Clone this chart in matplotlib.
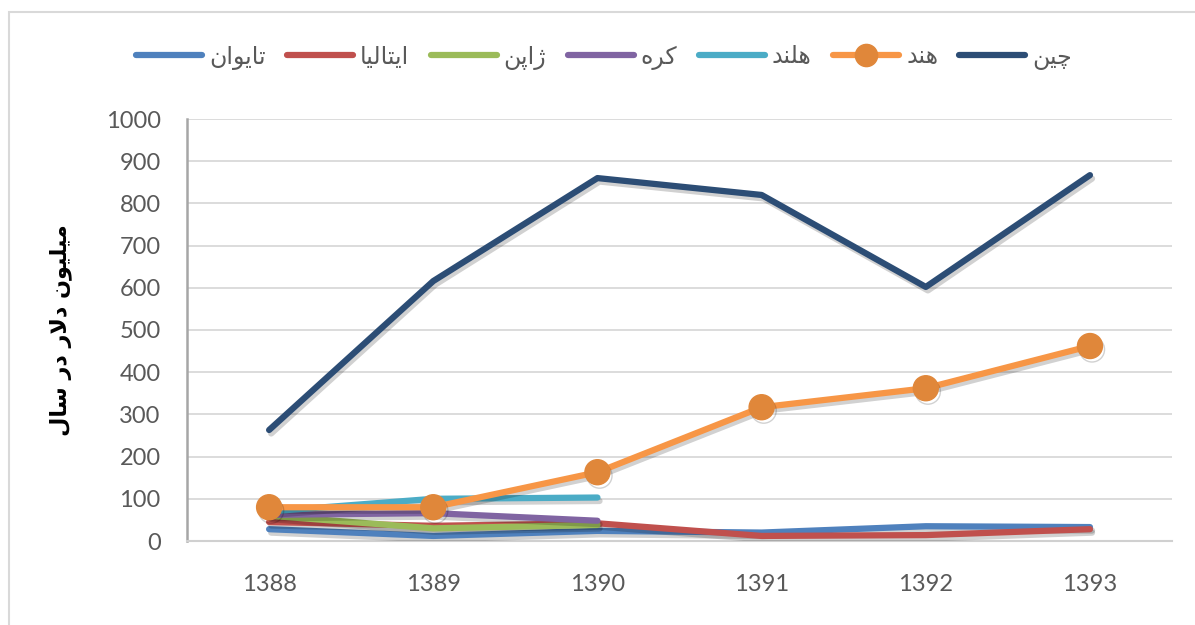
import matplotlib
matplotlib.use("Agg")
import matplotlib.pyplot as plt
import matplotlib.patheffects as pe
from matplotlib.lines import Line2D
from matplotlib.patches import Rectangle

# ---------------- data ----------------
years = ["1388", "1389", "1390", "1391", "1392", "1393"]
series_names = ["تایوان", "ایتالیا", "ژاپن", "کره", "هلند", "هند", "چین"]
taiwan = [28, 12, 24, 20, 35, 33]
italy = [45, 36, 42, 12, 14, 28]
japan = [60, 30, 38]
korea = [62, 66, 48]
netherlands = [70, 100, 103]
india = [80, 80, 163, 317, 362, 462]
china = [263, 616, 860, 820, 602, 867]
y_label = "میلیون دلار در سال"
y_ticks = [0, 100, 200, 300, 400, 500, 600, 700, 800, 900, 1000]

colors = ["#4F81BD", "#C0504D", "#9BBB59", "#8064A2", "#4BACC6", "#F79646", "#2C4D75"]

# ---------------- minimal Arabic/Persian shaping ----------------
# char: (isolated, final, initial, medial) ; None for initial/medial => right-joining only
FORMS = {
    "\u0686": ("\uFB7A", "\uFB7B", "\uFB7C", "\uFB7D"),
    "\u06CC": ("\uFBFC", "\uFBFD", "\uFBFE", "\uFBFF"),
    "\u0646": ("\uFEE5", "\uFEE6", "\uFEE7", "\uFEE8"),
    "\u0647": ("\uFEE9", "\uFEEA", "\uFEEB", "\uFEEC"),
    "\u0644": ("\uFEDD", "\uFEDE", "\uFEDF", "\uFEE0"),
    "\u06A9": ("\uFB8E", "\uFB8F", "\uFB90", "\uFB91"),
    "\u067E": ("\uFB56", "\uFB57", "\uFB58", "\uFB59"),
    "\u062A": ("\uFE95", "\uFE96", "\uFE97", "\uFE98"),
    "\u0645": ("\uFEE1", "\uFEE2", "\uFEE3", "\uFEE4"),
    "\u0633": ("\uFEB1", "\uFEB2", "\uFEB3", "\uFEB4"),
    "\u062F": ("\uFEA9", "\uFEAA", None, None),
    "\u0631": ("\uFEAD", "\uFEAE", None, None),
    "\u0698": ("\uFB8A", "\uFB8B", None, None),
    "\u0627": ("\uFE8D", "\uFE8E", None, None),
    "\u0648": ("\uFEED", "\uFEEE", None, None),
}


def joins_left(c):
    return c in FORMS and FORMS[c][2] is not None


def shape(text):
    chars = list(text)
    out = []
    i = 0
    n = len(chars)
    while i < n:
        c = chars[i]
        if c not in FORMS:
            out.append(c)
            i += 1
            continue
        prev = chars[i - 1] if i > 0 else None
        joined_prev = prev is not None and joins_left(prev)
        if c == "\u0644" and i + 1 < n and chars[i + 1] == "\u0627":
            out.append("\uFEFC" if joined_prev else "\uFEFB")
            i += 2
            continue
        nxt = chars[i + 1] if i + 1 < n else None
        joined_next = joins_left(c) and nxt is not None and nxt in FORMS
        iso, fin, ini, med = FORMS[c]
        if joined_prev and joined_next:
            out.append(med)
        elif joined_prev:
            out.append(fin)
        elif joined_next:
            out.append(ini)
        else:
            out.append(iso)
        i += 1
    return "".join(out)[::-1]


# ---------------- figure ----------------
plt.rcParams["font.family"] = ["Lato", "DejaVu Sans"]
fig = plt.figure(figsize=(11.95, 6.25), dpi=100)
ax = fig.add_axes([0.1565, 0.1344, 0.8243, 0.6752])

x_all = list(range(len(years)))
data = [taiwan, italy, japan, korea, netherlands, india, china]
shadow = [pe.SimpleLineShadow(offset=(1.5, -2.5), shadow_color="k", alpha=0.18), pe.Normal()]
handles = []
for name, vals, col in zip(series_names, data, colors):
    xs = x_all[: len(vals)]
    if name == "هند":
        ax.plot(xs, vals, color=col, lw=4.5, solid_capstyle="round",
                marker="o", markersize=18, markerfacecolor="#E0873A",
                markeredgecolor="#E0873A", path_effects=shadow, zorder=3)
        h = Line2D([], [], color=col, lw=4.5, marker="o", markersize=16,
                   markerfacecolor="#E0873A", markeredgecolor="#E0873A",
                   solid_capstyle="round")
    else:
        ax.plot(xs, vals, color=col, lw=4.5, solid_capstyle="round",
                path_effects=shadow, zorder=3)
        h = Line2D([], [], color=col, lw=4.5, solid_capstyle="round")
    handles.append((h, shape(name)))

ax.set_xlim(-0.5, 5.5)
ax.set_ylim(0, 1000)
ax.set_xticks(x_all)
ax.set_xticklabels(years)
ax.set_yticks(y_ticks)
ax.set_yticklabels([str(v) for v in y_ticks])
ax.tick_params(axis="both", length=0, labelsize=17, labelcolor="#595959")
ax.tick_params(axis="x", pad=24)
ax.tick_params(axis="y", pad=19)
ax.grid(axis="y", color="#D9D9D9", lw=1.3)
ax.set_axisbelow(True)
for s in ["top", "right"]:
    ax.spines[s].set_visible(False)
ax.spines["left"].set_color("#A6A6A6")
ax.spines["left"].set_linewidth(1.8)
ax.spines["bottom"].set_color("#D0D0D0")
ax.spines["bottom"].set_linewidth(1.5)

ax.set_ylabel(shape(y_label), family=["DejaVu Sans"], fontweight="bold",
              fontsize=16, color="black", labelpad=24)

leg = fig.legend([h for h, _ in handles], [t for _, t in handles],
                 loc="center", bbox_to_anchor=(604 / 1195, 1 - 57 / 625),
                 ncol=7, frameon=False, handlelength=2.8, handletextpad=0.3,
                 columnspacing=0.9, prop={"family": "DejaVu Sans", "size": 17})
for t in leg.get_texts():
    t.set_color("#595959")

fig.add_artist(Rectangle((9 / 1195, -0.1), 1.2, 1 - 12 / 625 + 0.1,
                         transform=fig.transFigure, fill=False,
                         edgecolor="#D9D9D9", lw=1.5))

fig.savefig("out.png", dpi=100)
